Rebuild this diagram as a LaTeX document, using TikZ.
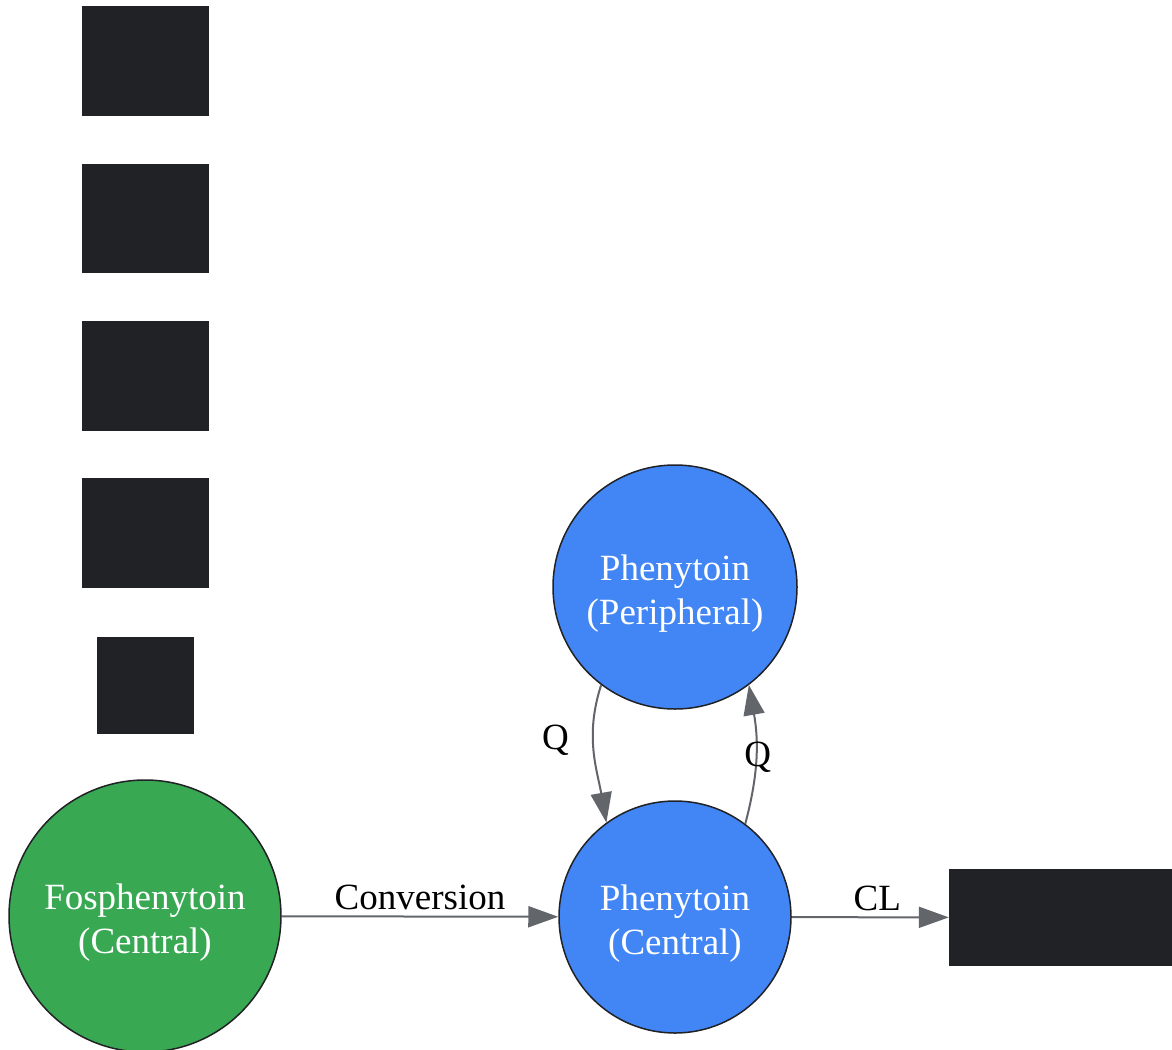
\documentclass[tikz,border=0pt]{standalone}
\usepackage{fontspec}
\setmainfont{Liberation Serif}
\usetikzlibrary{arrows.meta}
\definecolor{pkgreen}{HTML}{38A853}
\definecolor{pkblue}{HTML}{4285F4}
\definecolor{pkdark}{HTML}{212226}
\definecolor{pkedge}{HTML}{62656A}
\newcommand{\twolines}[2]{\raisebox{-37pt}[0pt][0pt]{\shortstack{#1\\[7pt]#2}}}
\tikzset{
	compart/.style={circle, draw=pkdark, line width=1.5pt, text=white, align=center, inner sep=0pt, font=\fontsize{37}{44}\selectfont},
	blank/.style={fill=pkdark, draw=none, inner sep=0pt},
	flow/.style={draw=pkedge, line width=2pt, -{Triangle[length=30pt,width=21pt]}},
	lbl/.style={font=\fontsize{37}{44}\selectfont, text=black}
}
\begin{document}
\begin{tikzpicture}[x=1pt, y={(0pt,-1pt)}]
	\useasboundingbox (0,0) rectangle (1172,1049);
	% legend blocks on the left
	\node [blank, minimum width=127pt, minimum height=110pt] (blk1) at (145.5,61) {};
	\node [blank, minimum width=127pt, minimum height=109pt] (blk2) at (145.5,218.5) {};
	\node [blank, minimum width=127pt, minimum height=110pt] (blk3) at (145.5,376) {};
	\node [blank, minimum width=127pt, minimum height=110pt] (blk4) at (145.5,533) {};
	\node [blank, minimum width=97pt, minimum height=97pt] (blk5) at (145.5,685.5) {};
	% compartments
	\node [compart, fill=pkgreen, minimum size=272pt] (fospheny) at (145,916) {\twolines{Fosphenytoin}{(Central)}};
	\node [compart, fill=pkblue, minimum size=232pt] (phencent) at (675,917) {\twolines{Phenytoin}{(Central)}};
	\node [compart, fill=pkblue, minimum size=244pt] (phenperi) at (675,587) {\twolines{Phenytoin}{(Peripheral)}};
	\node [blank, minimum width=224pt, minimum height=97pt] (elim) at (1061,917.5) {};
	% transfers
	\draw [flow] (fospheny) -- node [lbl, above=2pt] {Conversion} (phencent);
	\draw [flow] (phencent) -- node [lbl, above=2pt, xshift=7pt] {CL} (elim);
	\draw [flow] (phenperi.233) to [out=252, in=100] node [lbl, pos=0.4, left=20pt] {Q} (phencent.126);
	\draw [flow] (phencent.53) to [out=75, in=280] node [lbl, pos=0.48, xshift=2pt] {Q} (phenperi.307);
\end{tikzpicture}
\end{document}
